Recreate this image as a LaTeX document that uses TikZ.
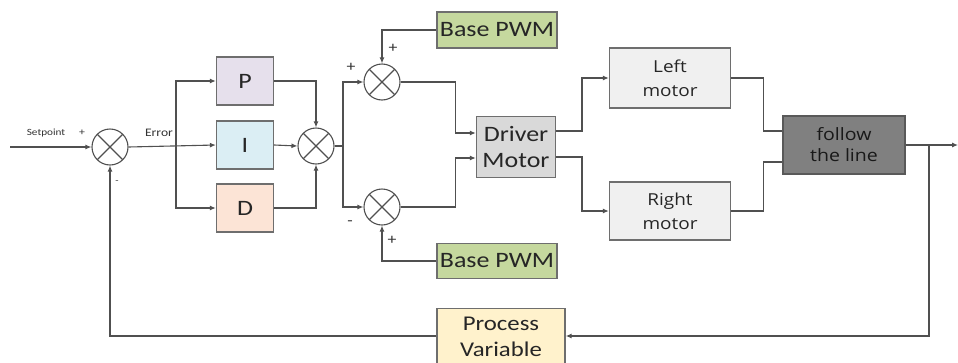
\documentclass[tikz,border=0pt]{standalone}
\usepackage{fontspec}
\setmainfont{Carlito}
\newfontfamily\cf[FakeStretch=1.18]{Carlito}
\newfontfamily\of[FakeStretch=1.15]{Open Sans}
\usetikzlibrary{arrows.meta,calc}
\definecolor{lineC}{HTML}{505050}
\definecolor{boxC}{HTML}{6E6E6E}
\definecolor{pC}{HTML}{E6E0EC}
\definecolor{iC}{HTML}{DBEEF4}
\definecolor{dC}{HTML}{FCE4D6}
\definecolor{pwmC}{HTML}{C5D89E}
\definecolor{drvC}{HTML}{D9D9D9}
\definecolor{motC}{HTML}{F0F0F0}
\definecolor{folC}{HTML}{808080}
\definecolor{pvC}{HTML}{FFF2CC}
\tikzset{
  conn/.style={draw=lineC, line width=1.1pt},
  arr/.style={conn, -{Latex[length=6pt,width=5pt]}},
  blk/.style={draw=boxC, line width=1.4pt, align=center, inner sep=0pt, text=black!85},
  sumnode/.style={circle, draw=lineC, line width=1.1pt, minimum size=36pt, inner sep=0pt,
    path picture={\draw[lineC, line width=1.1pt] (path picture bounding box.north west) -- (path picture bounding box.south east)
      (path picture bounding box.north east) -- (path picture bounding box.south west);}},
  sgn/.style={font=\cf\fontsize{15}{15}\selectfont, text=black!80, inner sep=0pt}
}
\begin{document}
\begin{tikzpicture}[x=1pt,y=-1pt]
\useasboundingbox[fill=white] (0,0) rectangle (958,362);
% summing junctions
\node[sumnode] (sum1) at (110,147) {};
\node[sumnode] (sum2) at (316,146) {};
\node[sumnode] (sum3) at (382,82) {};
\node[sumnode] (sum4) at (382,207) {};
% blocks
\node[blk, fill=pC, minimum width=57pt, minimum height=48pt, font=\cf\fontsize{22}{22}\selectfont] (P) at (245,81) {P};
\node[blk, fill=iC, minimum width=57pt, minimum height=48pt, font=\cf\fontsize{22}{22}\selectfont] (I) at (245,145) {I};
\node[blk, fill=dC, minimum width=57pt, minimum height=48pt, font=\cf\fontsize{22}{22}\selectfont] (D) at (245,208) {D};
\node[blk, fill=pwmC, minimum width=120pt, minimum height=36pt, font=\cf\fontsize{22}{22}\selectfont] (pwm1) at (497,30) {Base PWM};
\node[blk, fill=pwmC, minimum width=120pt, minimum height=35pt, font=\cf\fontsize{22}{22}\selectfont] (pwm2) at (497,261) {Base PWM};
\node[blk, fill=drvC, minimum width=79pt, minimum height=61pt, font=\cf\fontsize{22}{26}\selectfont] (drv) at (516,147) {Driver\\Motor};
\node[blk, fill=motC, minimum width=121pt, minimum height=60pt, font=\of\fontsize{16.5}{24}\selectfont] (lm) at (670,78) {Left\\motor};
\node[blk, fill=motC, minimum width=121pt, minimum height=58pt, font=\of\fontsize{16.5}{24}\selectfont] (rm) at (670,211) {Right\\motor};
\node[blk, fill=folC, draw=black!65, minimum width=122pt, minimum height=58pt, font=\of\fontsize{17}{21}\selectfont, text=black!90] (fol) at (844,145) {follow\\the line};
\node[blk, fill=pvC, anchor=north, minimum width=128pt, minimum height=62pt,
  label={[align=center, text=black!85, font=\cf\fontsize{21}{26}\selectfont, yshift=3pt]center:Process\\Variable}] (pv) at (501,308) {};
% free ends
\coordinate (start) at (10,147);
\coordinate (out) at (958,145);
\coordinate (br1) at (176,147);
\coordinate (br2) at (343,146);
\coordinate (br3) at (929,145);
% connectors
\draw[arr] (start) -- (sum1.west);
\draw[arr] (sum1.east) -- (I.west);
\draw[arr] (br1) |- (P.west);
\draw[arr] (br1) |- (D.west);
\draw[arr] (P.east) -| (sum2.north);
\draw[arr] (I.east) -- (sum2.west);
\draw[arr] (D.east) -| (sum2.south);
\draw[conn] (sum2.east) -- (br2);
\draw[arr] (br2) |- (sum3.west);
\draw[arr] (br2) |- (sum4.west);
\draw[arr] (pwm1.west) -| (sum3.north);
\draw[arr] (pwm2.west) -| (sum4.south);
\draw[arr] (sum3.east) -- ++(55,0) |- ($(drv.west)+(0,-14)$);
\draw[arr] (sum4.east) -- ++(55,0) |- ($(drv.west)+(0,11)$);
\draw[arr] ($(drv.east)+(0,-16)$) -- (582,131) |- (lm.west);
\draw[arr] ($(drv.east)+(0,10)$) -- (582,157) |- (rm.west);
\draw[conn] (lm.east) -- ++(32,0) |- ($(fol.west)+(0,-14)$);
\draw[conn] (rm.east) -- ++(32,0) |- ($(fol.west)+(0,17)$);
\draw[arr] (fol.east) -- (out);
\draw[arr] (br3) |- ($(pv.north east)+(0,28)$);
\draw[arr] ($(pv.north west)+(0,28)$) -| (sum1.south);
% labels
\node[sgn, font=\cf\fontsize{9.5}{9.5}\selectfont] (lsp) at (46,133) {Setpoint};
\node[sgn, font=\cf\fontsize{10}{10}\selectfont] (lp1) at (82,133) {+};
\node[sgn, font=\cf\fontsize{11.5}{11.5}\selectfont] (lerr) at (159,133) {Error};
\node[sgn, font=\cf\fontsize{9}{9}\selectfont] (lm1) at (117,182) {-};
\node[sgn] (lp3) at (351,67) {+};
\node[sgn] (lp4) at (393,48) {+};
\node[sgn] (lm4) at (350,223) {-};
\node[sgn] (lp5) at (392,240) {+};
\end{tikzpicture}
\end{document}
